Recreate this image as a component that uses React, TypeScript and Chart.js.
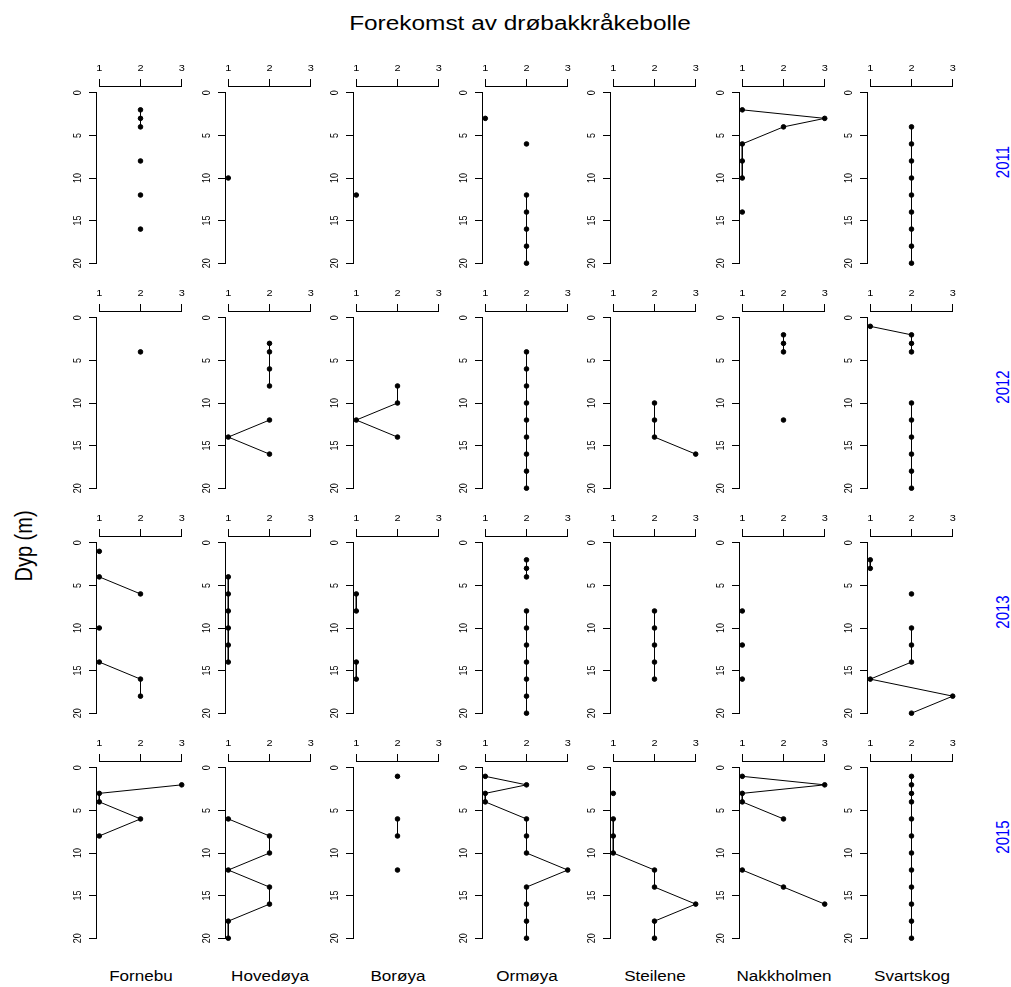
import React, { useEffect, useRef } from "react";
import { Chart, registerables } from "chart.js";

Chart.register(...registerables);

// ---------- data ----------
const sites = ["Fornebu", "Hovedøya", "Borøya", "Ormøya", "Steilene", "Nakkholmen", "Svartskog"];
const years = ["2011", "2012", "2013", "2015"];
const depths = [1, 2, 3, 4, 6, 8, 10, 12, 14, 16, 18, 20];
const xTicks = [1, 2, 3];
const yTicks = [0, 5, 10, 15, 20];
const n = null;

// one row per site, values per depth (null = no observation)
const y2011 = [
  [n, 2, 2, 2, n, 2, n, 2, n, 2, n, n],
  [n, n, n, n, n, n, 1, n, n, n, n, n],
  [n, n, n, n, n, n, n, 1, n, n, n, n],
  [n, n, 1, n, 2, n, n, 2, 2, 2, 2, 2],
  [n, n, n, n, n, n, n, n, n, n, n, n],
  [n, 1, 3, 2, 1, 1, 1, n, 1, n, n, n],
  [n, n, n, 2, 2, 2, 2, 2, 2, 2, 2, 2],
];
const y2012 = [
  [n, n, n, 2, n, n, n, n, n, n, n, n],
  [n, n, 2, 2, 2, 2, n, 2, 1, 2, n, n],
  [n, n, n, n, n, 2, 2, 1, 2, n, n, n],
  [n, n, n, 2, 2, 2, 2, 2, 2, 2, 2, 2],
  [n, n, n, n, n, n, 2, 2, 2, 3, n, n],
  [n, 2, 2, 2, n, n, n, 2, n, n, n, n],
  [1, 2, 2, 2, n, n, 2, 2, 2, 2, 2, 2],
];
const y2013 = [
  [1, n, n, 1, 2, n, 1, n, 1, 2, 2, n],
  [n, n, n, 1, 1, 1, 1, 1, 1, n, n, n],
  [n, n, n, n, 1, 1, n, n, 1, 1, n, n],
  [n, 2, 2, 2, n, 2, 2, 2, 2, 2, 2, 2],
  [n, n, n, n, n, 2, 2, 2, 2, 2, n, n],
  [n, n, n, n, n, 1, n, 1, n, 1, n, n],
  [n, 1, 1, n, 2, n, 2, 2, 2, 1, 3, 2],
];
const y2015 = [
  [n, 3, 1, 1, 2, 1, n, n, n, n, n, n],
  [n, n, n, n, 1, 2, 2, 1, 2, 2, 1, 1],
  [2, n, n, n, 2, 2, n, 2, n, n, n, n],
  [1, 2, 1, 1, 2, 2, 2, 3, 2, 2, 2, 2],
  [n, n, 1, n, 1, 1, 1, 2, 2, 3, 2, 2],
  [1, 3, 1, 1, 2, n, n, 1, 2, 3, n, n],
  [2, 2, 2, 2, 2, 2, 2, 2, 2, 2, 2, 2],
];
const yearData = [y2011, y2012, y2013, y2015];

const title = "Forekomst av drøbakkråkebolle";
const yLabel = "Dyp (m)";

// ---------- layout ----------
const FONT = "'Liberation Sans', Arial, Helvetica, sans-serif";
const STRETCH = 1.22;
const Y_AXIS_W = 40;
const X_AXIS_H = 30;
const PAD_R = 8;
const PAD_B = 8;
const PLOT_W = 89;
const PLOT_H = 184;
const CW = Y_AXIS_W + PLOT_W + PAD_R;
const CH = X_AXIS_H + PLOT_H + PAD_B;
const COL0 = 96.4;
const COL_STEP = 128.5;
const ROW0 = 85.9;
const ROW_STEP = 225;

const align = (p: number) => Math.round(p - 0.5) + 0.5;

// R-style axes: axis line only between first and last tick, stretched tick labels
const axisLines = {
  id: "axisLines",
  afterDraw(chart: any) {
    const { ctx, chartArea, scales } = chart;
    const x = scales.x;
    const y = scales.y;
    ctx.save();
    ctx.strokeStyle = "#000";
    ctx.lineWidth = 1;
    ctx.lineCap = "square";
    ctx.beginPath();
    const top = align(chartArea.top);
    ctx.moveTo(align(x.getPixelForValue(xTicks[0])), top);
    ctx.lineTo(align(x.getPixelForValue(xTicks[xTicks.length - 1])), top);
    const left = align(chartArea.left);
    ctx.moveTo(left, align(y.getPixelForValue(yTicks[0])));
    ctx.lineTo(left, align(y.getPixelForValue(yTicks[yTicks.length - 1])));
    ctx.stroke();

    ctx.fillStyle = "#000";
    ctx.font = `9px ${FONT}`;
    ctx.textAlign = "center";
    ctx.textBaseline = "middle";
    x.ticks.forEach((t: any) => {
      ctx.save();
      ctx.translate(x.getPixelForValue(t.value), chartArea.top - 17);
      ctx.scale(STRETCH, 1);
      ctx.fillText(String(t.value), 0, 0);
      ctx.restore();
    });
    y.ticks.forEach((t: any) => {
      ctx.save();
      ctx.translate(chartArea.left - 18, y.getPixelForValue(t.value));
      ctx.scale(STRETCH, 1);
      ctx.rotate(-Math.PI / 2);
      ctx.fillText(String(t.value), 0, 0);
      ctx.restore();
    });
    ctx.restore();
  },
};

function Panel({ values, left, top }: { values: (number | null)[]; left: number; top: number }) {
  const ref = useRef<HTMLCanvasElement>(null);
  useEffect(() => {
    const canvas = ref.current;
    if (!canvas) return;
    const chart = new Chart(canvas, {
      type: "scatter",
      data: {
        datasets: [
          {
            data: depths.map((d, k) => ({ x: values[k] as any, y: d })),
            showLine: true,
            spanGaps: false,
            borderColor: "#000",
            backgroundColor: "#000",
            borderWidth: 1,
            pointRadius: 2.3,
            pointBorderWidth: 1,
            pointBorderColor: "#000",
            pointBackgroundColor: "#000",
            pointHoverRadius: 2.3,
            clip: false as any,
          } as any,
        ],
      },
      options: {
        responsive: false,
        animation: false,
        devicePixelRatio: 1,
        events: [],
        layout: { padding: { left: 0, top: 0, right: PAD_R, bottom: PAD_B } },
        plugins: { legend: { display: false }, tooltip: { enabled: false }, title: { display: false } },
        scales: {
          x: {
            type: "linear",
            position: "top",
            min: 0.92,
            max: 3.08,
            afterBuildTicks: (s: any) => {
              s.ticks = xTicks.map((v) => ({ value: v }));
            },
            afterFit: (s: any) => {
              s.height = X_AXIS_H;
            },
            grid: { drawOnChartArea: false, drawTicks: true, tickLength: 7, color: "#000", lineWidth: 1 },
            border: { display: false },
            ticks: { display: false },
          },
          y: {
            type: "linear",
            position: "left",
            reverse: true,
            min: -0.8,
            max: 20.8,
            afterBuildTicks: (s: any) => {
              s.ticks = yTicks.map((v) => ({ value: v }));
            },
            afterFit: (s: any) => {
              s.width = Y_AXIS_W;
            },
            grid: { drawOnChartArea: false, drawTicks: true, tickLength: 7, color: "#000", lineWidth: 1 },
            border: { display: false },
            ticks: { display: false },
          },
        },
      } as any,
      plugins: [axisLines],
    });
    return () => chart.destroy();
  }, [values]);
  return (
    <canvas
      ref={ref}
      width={CW}
      height={CH}
      style={{ position: "absolute", left, top, width: CW, height: CH }}
    />
  );
}

function Label({
  text, x, y, size, rotate, color,
}: { text: string; x: number; y: number; size: number; rotate?: boolean; color?: string }) {
  return (
    <div
      style={{
        position: "absolute",
        left: x,
        top: y,
        fontFamily: FONT,
        fontSize: size,
        lineHeight: 1,
        whiteSpace: "nowrap",
        color: color || "#000",
        transform: `translate(-50%, -50%) scaleX(${STRETCH})${rotate ? " rotate(-90deg)" : ""}`,
      }}
    >
      {text}
    </div>
  );
}

export default function App() {
  return (
    <div style={{ position: "absolute", left: 0, top: 0, width: 1011, height: 987, background: "#fff", overflow: "hidden" }}>
      <Label text={title} x={519.7} y={22.7} size={20} />
      <Label text={yLabel} x={23} y={546} size={20} rotate />
      {years.map((yr, j) => (
        <Label key={yr} text={yr} x={1001.5} y={161.5 + ROW_STEP * j} size={15} rotate color="#0000FF" />
      ))}
      {sites.map((s, i) => (
        <Label key={s} text={s} x={141.3 + COL_STEP * i} y={976} size={14} />
      ))}
      {yearData.map((rows, j) =>
        rows.map((vals, i) => (
          <Panel
            key={`${j}-${i}`}
            values={vals}
            left={Math.round(COL0 + COL_STEP * i - Y_AXIS_W)}
            top={Math.round(ROW0 + ROW_STEP * j - X_AXIS_H)}
          />
        ))
      )}
    </div>
  );
}
